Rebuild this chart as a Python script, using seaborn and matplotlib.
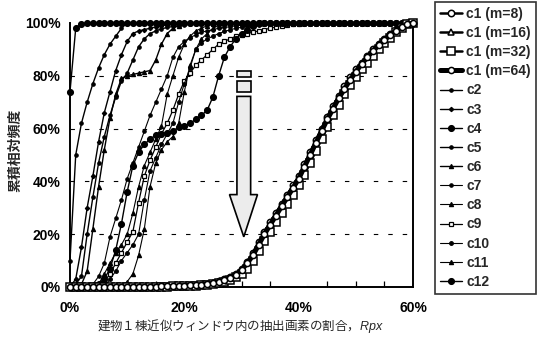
import matplotlib
matplotlib.use("Agg")
import matplotlib.pyplot as plt
from matplotlib.patches import Polygon, Rectangle
from matplotlib.ticker import MultipleLocator, FuncFormatter
import seaborn as sns
import numpy as np

sns.set_theme(style="white")
plt.rcParams["font.family"] = ["Liberation Sans Narrow", "Liberation Sans", "DejaVu Sans"]
plt.rcParams["mathtext.fontset"] = "custom"
plt.rcParams["mathtext.it"] = "Liberation Sans:italic"

# Rpx (%) sampled every 1 %
rpx = list(range(61))

c1_m8 = [0]*15 + [0.2, 0.2, 0.3, 0.3, 0.4,
                  0.5, 0.6, 0.8, 1.0, 1.3, 1.7, 2.2, 2.9, 3.8, 5,
                  7, 9.5, 13, 17, 21, 24.5, 28, 31.5, 35, 38.5,
                  42, 46.5, 51, 55.5, 60, 64.5, 68.5, 72.5, 76, 79.5,
                  82.5, 85, 87.5, 90, 92, 94, 96, 97.5, 99, 100, 100]
c1_m16 = [0]*15 + [0.1, 0.2, 0.2, 0.3, 0.3,
                   0.4, 0.5, 0.6, 0.8, 1.0, 1.4, 1.8, 2.4, 3.2, 4.3,
                   6, 8.3, 11.5, 15, 19, 22.5, 26, 29.5, 33, 36.5,
                   40, 44, 48.5, 53, 57.5, 62, 66.5, 70.5, 74, 77.5,
                   80.5, 83.5, 86, 88.5, 91, 93, 95, 97, 98.5, 99.5, 100]
c1_m32 = [0]*15 + [0, 0.1, 0.1, 0.2, 0.2,
                   0.3, 0.4, 0.5, 0.6, 0.8, 1.1, 1.5, 2, 2.7, 3.6,
                   5, 7, 10, 13.5, 17.5, 21, 24.5, 28, 31.5, 35,
                   38.5, 42.5, 47, 51.5, 56, 60.5, 65, 69, 73, 76.5,
                   79.5, 82.5, 85, 87.5, 90, 92.5, 94.5, 96.5, 98, 99.5, 100]
c1_m64 = [0]*15 + [0.1, 0.2, 0.2, 0.3, 0.4,
                   0.5, 0.6, 0.7, 0.9, 1.2, 1.5, 2, 2.6, 3.5, 4.6,
                   6.5, 9, 12, 16, 20, 23.5, 27, 30.5, 34, 37.5,
                   41, 45.5, 50, 54.5, 59, 63.5, 67.5, 71.5, 75, 78.5,
                   81.5, 84.5, 87, 89.5, 91.5, 93.5, 95.5, 97, 98.5, 99.5, 100]

c2 = [10, 50, 62, 70, 77, 83, 88, 92, 95, 98] + [100]*51
c3 = [0, 3, 15, 30, 42, 55, 66, 74, 82, 88, 93, 96, 97, 97.5, 98, 98.5, 99,
      99.3, 99.5, 99.8] + [100]*41
c4 = [74, 98, 99.5] + [100]*58
c5 = [0, 1, 4, 20, 34, 47, 57, 65, 72, 78, 81, 86, 91, 94, 96, 97, 97.8, 98.3,
      98.7, 99, 99.3, 99.5, 99.7] + [100]*38
c6 = [0, 0, 1, 6, 22, 38, 52, 64, 73, 79, 80, 80.5, 81, 81.5, 82, 86, 92, 96,
      98, 99] + [100]*41
c7 = [0, 0, 0, 0, 1, 4, 9, 19, 26, 33, 41, 47, 53, 59, 65, 70, 75, 80, 87, 91,
      93, 94.5, 95.5, 96.5, 97, 97.5, 98, 98.3, 98.6, 98.9, 99.2, 99.5,
      99.7] + [100]*28
c8 = [0, 0, 0, 0, 0, 1, 5, 9, 13, 16, 20, 28, 38, 46, 51, 56, 61, 73, 80, 87,
      92, 95, 97, 98, 99, 99.5] + [100]*35
c9 = [0, 0, 0, 0, 0, 0, 2, 5, 9, 13, 17, 21, 32, 42, 48, 53, 58, 62, 67, 73,
      78, 81, 84, 86, 88, 90, 92, 93, 94, 95, 95.5, 96, 96.5, 97, 97.5, 98,
      98.5, 99, 99.3, 99.5, 99.7] + [100]*20
c10 = [0, 0, 0, 0, 0, 0, 0, 3, 6, 10, 13, 16, 20, 33, 44, 49, 54, 58, 62, 70,
       77, 83, 90, 92.5, 94, 95, 96, 96.8, 97.4, 98, 98.4, 98.8, 99.1, 99.4,
       99.6, 99.8] + [100]*25
c11 = [0]*10 + [2, 5, 12, 22, 38, 47, 52, 55, 57, 62, 74, 84, 90, 94, 96, 98,
                99] + [100]*34
c12 = [0, 0, 0, 0, 0, 1, 3, 7, 14, 24, 36, 46, 51, 54, 56, 57.5, 58, 58.5, 59,
       60.5, 61, 62, 63.5, 65, 67, 72, 80, 87, 91, 94, 96, 97.5, 99] + [100]*28

labels = ["c1 (m=8)", "c1 (m=16)", "c1 (m=32)", "c1 (m=64)",
          "c2", "c3", "c4", "c5", "c6", "c7", "c8", "c9", "c10", "c11", "c12"]
series = [c1_m8, c1_m16, c1_m32, c1_m64,
          c2, c3, c4, c5, c6, c7, c8, c9, c10, c11, c12]

# line width, marker, marker size, marker face
styles = [
    (1.8, "o", 4.6, "white"),
    (1.8, "^", 5.0, "white"),
    (1.8, "s", 6.0, "white"),
    (3.6, "o", 4.4, "white"),
    (1.0, "o", 2.4, "black"),
    (1.0, "D", 2.2, "black"),
    (1.0, "o", 4.2, "black"),
    (1.0, "o", 2.4, "black"),
    (1.0, "^", 3.0, "black"),
    (0.8, "o", 2.4, "black"),
    (0.8, "^", 3.0, "black"),
    (0.9, "s", 3.0, "white"),
    (0.8, "o", 2.6, "black"),
    (0.8, "^", 3.0, "black"),
    (1.0, "o", 4.2, "black"),
]

fig = plt.figure(figsize=(5.37, 3.39), dpi=100)
ax = fig.add_axes([70/537, 1-287/339, (413-70)/537, (287-23)/339])

for i in [4, 5, 6, 7, 8, 9, 10, 11, 12, 13, 14, 0, 1, 2, 3]:
    lw, mk, ms, mf = styles[i]
    sns.lineplot(x=np.array(rpx) / 100, y=np.array(series[i]) / 100, ax=ax,
                 color="black", linewidth=lw, marker=mk, markersize=ms,
                 markerfacecolor=mf, markeredgecolor="black",
                 markeredgewidth=1.1 if i < 4 else 0.9, label=labels[i],
                 clip_on=False, legend=False, zorder=3 if i < 4 else 2)

ax.set_xlim(0, 0.6)
ax.set_ylim(0, 1.0)

for yv in [0.2, 0.4, 0.6, 0.8]:
    ax.axhline(yv, color="black", linewidth=0.8, dashes=(4, 9), zorder=1)

pct = FuncFormatter(lambda v, _: f"{v*100:.0f}%")
ax.xaxis.set_major_locator(MultipleLocator(0.2))
ax.xaxis.set_minor_locator(MultipleLocator(0.05))
ax.yaxis.set_major_locator(MultipleLocator(0.2))
ax.xaxis.set_major_formatter(pct)
ax.yaxis.set_major_formatter(pct)
ax.tick_params(axis="x", which="both", direction="in", length=4, width=0.9,
               pad=10, labelsize=10, colors="black")
ax.tick_params(axis="y", which="both", direction="in", length=4, width=0.9,
               pad=7, labelsize=10, colors="black")
ax.tick_params(which="minor", bottom=True)
for lab in ax.get_xticklabels() + ax.get_yticklabels():
    lab.set_fontweight("bold")
for s in ["left", "bottom", "right"]:
    ax.spines[s].set_color("black")
    ax.spines[s].set_linewidth(1.4)
ax.spines["top"].set_visible(False)

# down arrow marking the shift of the distributions
arrow_face = "#ececec"
ax.add_patch(Rectangle((0.292, 0.795), 0.024, 0.022, facecolor=arrow_face,
                       edgecolor="black", linewidth=1.2, zorder=4))
ax.add_patch(Rectangle((0.292, 0.738), 0.024, 0.042, facecolor=arrow_face,
                       edgecolor="black", linewidth=1.2, zorder=4))
ax.add_patch(Polygon([(0.292, 0.722), (0.316, 0.722), (0.316, 0.35),
                      (0.328, 0.35), (0.304, 0.19), (0.279, 0.35),
                      (0.292, 0.35)], closed=True, facecolor=arrow_face,
                     edgecolor="black", linewidth=1.2, zorder=4))

jp = ["Noto Sans CJK JP", "DejaVu Sans"]
fig.text(15/537, 1-150/339, "累積相対頻度", rotation=90, ha="center",
         va="center", family=jp, fontsize=10, fontweight="bold")
fig.text(241/537, 1-326/339,
         "建物１棟近似ウィンドウ内の抽出画素の割合，$\\mathit{Rpx}$",
         ha="center", va="center", family=jp, fontsize=9)

handles, labs = ax.get_legend_handles_labels()
order = [labs.index(l) for l in labels]
leg = fig.legend([handles[k] for k in order], [labs[k] for k in order],
                 loc="upper left", bbox_to_anchor=(435/537, 1-2/339),
                 frameon=True, fancybox=False, fontsize=10,
                 prop={"weight": "bold", "size": 10},
                 handlelength=1.6, handletextpad=0.3, labelspacing=0.37,
                 borderpad=0.35, borderaxespad=0, edgecolor="black")
leg.get_frame().set_linewidth(1.2)

fig.savefig("out.png", dpi=100, facecolor="white")
